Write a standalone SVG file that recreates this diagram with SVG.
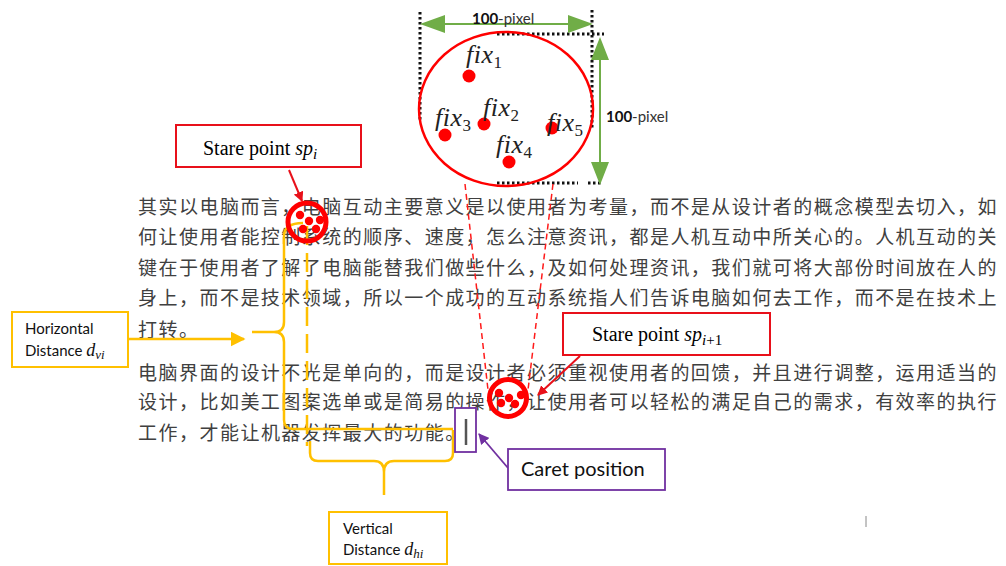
<svg xmlns="http://www.w3.org/2000/svg" width="1006" height="566" viewBox="0 0 1006 566">
<defs>
<style>
.cn{font-family:"Noto Sans CJK SC","Noto Sans",sans-serif;font-size:19px;fill:#404040;letter-spacing:1.48px}
.ser{font-family:"Liberation Serif",serif;fill:#000}
.it{font-style:italic}
.sans{font-family:Lato,"Liberation Sans",sans-serif;fill:#111}
.fix{font-family:"Liberation Serif",serif;font-style:italic;font-size:26px;fill:#222;letter-spacing:0.5px}
.dot{fill:#ff0000}
.dotted{stroke:#111;stroke-width:3;stroke-dasharray:2.5 2.5;fill:none}
.green{stroke:#70ad47;stroke-width:2;fill:none}
.gfill{fill:#70ad47}
.redbox{fill:#fff;stroke:#e8101a;stroke-width:2}
.ybox{fill:#fff;stroke:#ffc000;stroke-width:2}
.pbox{fill:#fff;stroke:#7030a0;stroke-width:1.8}
.yline{stroke:#ffc000;stroke-width:2.5;fill:none}
.rdash{stroke:#ff1a1a;stroke-width:1.5;stroke-dasharray:6 4;fill:none}
.spc{fill:none;stroke:#ff0000;stroke-width:5}
</style>
<marker id="redArrow" viewBox="0 0 10 10" refX="9" refY="5" markerWidth="5" markerHeight="5" orient="auto-start-reverse"><path d="M0,0 L10,5 L0,10 z" fill="#e8101a"/></marker>
<marker id="yArrow" viewBox="0 0 10 10" refX="9" refY="5" markerWidth="6" markerHeight="6" orient="auto-start-reverse"><path d="M0,0 L10,5 L0,10 z" fill="#ffc000"/></marker>
<marker id="pArrow" viewBox="0 0 10 10" refX="9" refY="5" markerWidth="6" markerHeight="6" orient="auto-start-reverse"><path d="M0,0 L10,5 L0,10 z" fill="#7030a0"/></marker>
</defs>
<rect width="1006" height="566" fill="#fff"/>

<!-- top fixation figure -->
<g id="fixation-figure">
<path class="dotted" d="M420,12 V120 M592,10 V130 M497,34 H604 M497,183 H578 M588,183 H602"/>
<ellipse cx="506" cy="109" rx="87" ry="77" fill="none" stroke="#ff0000" stroke-width="2.5"/>
<line class="green" x1="438" y1="24" x2="574" y2="24"/>
<path class="gfill" d="M420,24 L445,15 L445,33 z M593,24 L568,15 L568,33 z"/>
<line class="green" x1="600" y1="56" x2="600" y2="166"/>
<path class="gfill" d="M600,37 L591,60 L609,60 z M600,185 L591,162 L609,162 z"/>
<text class="sans" x="472" y="24" font-size="15"><tspan font-weight="700">100</tspan><tspan fill="#333">-pixel</tspan></text>
<text class="sans" x="606" y="122" font-size="15"><tspan font-weight="700">100</tspan><tspan fill="#333">-pixel</tspan></text>
<circle class="dot" cx="469" cy="76" r="6.5"/>
<circle class="dot" cx="484" cy="124" r="6.5"/>
<circle class="dot" cx="445" cy="135" r="6.5"/>
<circle class="dot" cx="509" cy="162" r="6.5"/>
<circle class="dot" cx="552" cy="128" r="6.5"/>
<text class="fix" x="466" y="63">fix<tspan font-size="17" dy="5" font-style="normal">1</tspan></text>
<text class="fix" x="483" y="116">fix<tspan font-size="17" dy="5" font-style="normal">2</tspan></text>
<text class="fix" x="435" y="126">fix<tspan font-size="17" dy="5" font-style="normal">3</tspan></text>
<text class="fix" x="496" y="153">fix<tspan font-size="17" dy="5" font-style="normal">4</tspan></text>
<text class="fix" x="547" y="131">fix<tspan font-size="17" dy="5" font-style="normal">5</tspan></text>
</g>

<!-- paragraph text -->
<g id="paragraph-text">
<text class="cn" x="138" y="214" textLength="860">其实以电脑而言，电脑互动主要意义是以使用者为考量，而不是从设计者的概念模型去切入，如</text>
<text class="cn" x="138" y="244" textLength="860">何让使用者能控制系统的顺序、速度，怎么注意资讯，都是人机互动中所关心的。人机互动的关</text>
<text class="cn" x="138" y="275" textLength="860">键在于使用者了解了电脑能替我们做些什么，及如何处理资讯，我们就可将大部份时间放在人的</text>
<text class="cn" x="138" y="305" textLength="860">身上，而不是技术领域，所以一个成功的互动系统指人们告诉电脑如何去工作，而不是在技术上</text>
<text class="cn" x="138" y="337">打转。</text>
<text class="cn" x="138" y="380" textLength="860">电脑界面的设计不光是单向的，而是设计者必须重视使用者的回馈，并且进行调整，运用适当的</text>
<text class="cn" x="138" y="409" textLength="860">设计，比如美工图案选单或是简易的操作，让使用者可以轻松的满足自己的需求，有效率的执行</text>
<text class="cn" x="138" y="440">工作，才能让机器发挥最大的功能。</text>
</g>

<!-- connectors -->
<g id="connectors">
<line class="rdash" x1="465" y1="184" x2="488" y2="390"/>
<line class="rdash" x1="553" y1="184" x2="528" y2="390"/>
<line x1="289" y1="170" x2="302" y2="201" stroke="#e8101a" stroke-width="2" marker-end="url(#redArrow)"/>
<line x1="580" y1="356" x2="538" y2="395" stroke="#e8101a" stroke-width="2" marker-end="url(#redArrow)"/>
<line x1="128" y1="339" x2="244" y2="339" stroke="#ffc000" stroke-width="2.5" marker-end="url(#yArrow)"/>
<line x1="508" y1="468" x2="479" y2="434" stroke="#7030a0" stroke-width="1.8" marker-end="url(#pArrow)"/>
<!-- horizontal distance brace -->
<path class="yline" d="M303,223 Q284,223 284,236 V322 Q284,332 274,332 H252 M274,332 Q284,332 284,342 V420 Q284,429 293,429 H453"/>
<line class="yline" x1="307" y1="226" x2="307" y2="446" stroke-dasharray="19 8"/>
<!-- vertical distance brace -->
<path class="yline" d="M310,441 V453 Q310,461 318,461 H374 Q384,461 384,472 V495 M384,472 Q384,461 394,461 H445 Q453,461 453,453 V430"/>
</g>

<!-- stare point circles -->
<g id="stare-point-i">
<circle class="spc" cx="307" cy="222" r="19"/>
<circle class="dot" cx="300" cy="215" r="4.2"/>
<circle class="dot" cx="309" cy="221" r="4.2"/>
<circle class="dot" cx="320" cy="220" r="4.2"/>
<circle class="dot" cx="316" cy="229" r="4.2"/>
<circle class="dot" cx="303" cy="229" r="4.2"/>
</g>
<g id="stare-point-i1">
<circle class="spc" cx="508" cy="398" r="18.5"/>
<circle class="dot" cx="499" cy="393" r="4.2"/>
<circle class="dot" cx="509" cy="398" r="4.2"/>
<circle class="dot" cx="521" cy="395" r="4.2"/>
<circle class="dot" cx="515" cy="404" r="4.2"/>
<circle class="dot" cx="501" cy="403" r="4.2"/>
</g>

<!-- caret -->
<g id="caret">
<rect class="pbox" x="455" y="408" width="21" height="44"/>
<line x1="466" y1="419" x2="466" y2="445" stroke="#555" stroke-width="2.5"/>
</g>

<!-- label boxes -->
<g id="label-sp-i">
<rect class="redbox" x="176" y="125" width="185" height="42"/>
<text class="ser" x="203" y="155" font-size="20">Stare point <tspan class="it">sp</tspan><tspan class="it" font-size="15" dy="4">i</tspan></text>
</g>
<g id="label-sp-i1">
<rect class="redbox" x="563" y="313" width="207" height="42"/>
<text class="ser" x="592" y="341" font-size="20">Stare point <tspan class="it">sp</tspan><tspan class="it" font-size="15" dy="4">i</tspan><tspan font-size="15">+1</tspan></text>
</g>
<g id="label-horizontal">
<rect class="ybox" x="12" y="312" width="116" height="55"/>
<text class="sans" x="25" y="334" font-size="15">Horizontal</text>
<text class="sans" x="25" y="356" font-size="15">Distance <tspan class="it" font-family="Liberation Serif" font-size="18">d</tspan><tspan class="it" font-family="Liberation Serif" font-size="13" dy="3">vi</tspan></text>
</g>
<g id="label-vertical">
<rect class="ybox" x="329" y="512" width="118" height="52"/>
<text class="sans" x="343" y="534" font-size="15">Vertical</text>
<text class="sans" x="343" y="555" font-size="15">Distance <tspan class="it" font-family="Liberation Serif" font-size="18">d</tspan><tspan class="it" font-family="Liberation Serif" font-size="13" dy="3">hi</tspan></text>
</g>
<g id="label-caret">
<rect class="pbox" x="508" y="449" width="157" height="41"/>
<text class="sans" x="521" y="476" font-size="20">Caret position</text>
</g>

<line x1="866" y1="516" x2="866" y2="527" stroke="#888" stroke-width="1"/>
</svg>
